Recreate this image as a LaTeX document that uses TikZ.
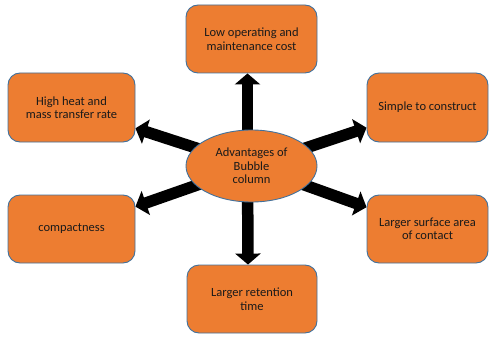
\documentclass[tikz,border=0pt]{standalone}
\usepackage{fontspec}
\setmainfont{Carlito}
\usetikzlibrary{arrows.meta,shapes.geometric}
\pgfdeclarelayer{background}
\pgfsetlayers{background,main}
\definecolor{boxfill}{HTML}{ED7D31}
\definecolor{boxline}{HTML}{41719C}
\definecolor{txt}{HTML}{1A1A1A}
\tikzset{
  adv/.style={draw=boxline, line width=0.9pt, fill=boxfill, rounded corners=12pt,
    minimum height=68pt, text=txt, align=center, font=\fontsize{12.5}{13.5}\selectfont,
    inner sep=0pt},
  hub/.style={ellipse, draw=boxline, line width=0.9pt, fill=boxfill,
    minimum width=131pt, minimum height=72pt, text=txt, align=center,
    font=\fontsize{12.5}{13.5}\selectfont, inner sep=0pt},
  bigarrow/.style={line width=11.5pt, black, -{Triangle[width=25pt,length=11pt]}}
}
\begin{document}
\begin{tikzpicture}[x=1pt,y=-1pt]
\useasboundingbox (0,0) rectangle (490,337);
\node[hub] (ell) at (251.5,166) {Advantages of\\Bubble\\column};
\node[adv, minimum width=131pt] (top) at (251.5,39) {Low operating and\\maintenance cost};
\node[adv, minimum width=127pt, minimum height=69pt] (hh) at (71.5,107.5) {High heat and\\mass transfer rate};
\node[adv, minimum width=121pt, minimum height=69pt] (simple) at (427.5,107.5) {Simple to construct};
\node[adv, minimum width=127pt] (compact) at (71.5,229) {compactness};
\node[adv, minimum width=121pt] (surface) at (427.5,229) {Larger surface area\\of contact};
\node[adv, minimum width=130pt] (bottom) at (252,299) {Larger retention\\time};
\begin{pgfonlayer}{background}
\draw[bigarrow] ([xshift=-4pt]ell.center) -- ([xshift=-4pt]top.south);
\draw[bigarrow] (ell.center) -- (hh);
\draw[bigarrow] (ell.center) -- (simple);
\draw[bigarrow] (ell.center) -- (compact);
\draw[bigarrow] (ell.center) -- (surface);
\draw[bigarrow] ([xshift=-4pt]ell.center) -- ([xshift=-4pt]bottom.north);
\end{pgfonlayer}
\end{tikzpicture}
\end{document}
